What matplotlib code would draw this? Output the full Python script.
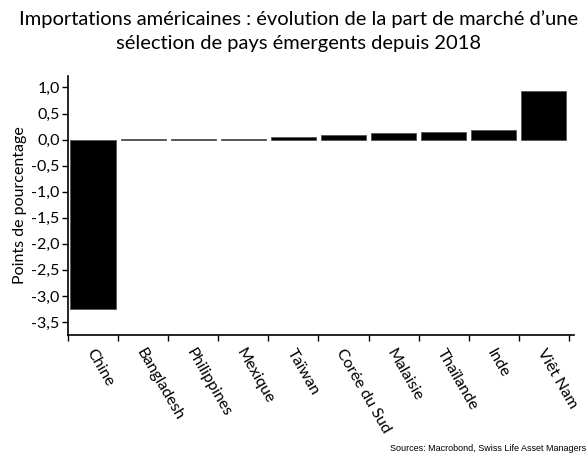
import matplotlib
matplotlib.use("Agg")
import matplotlib.pyplot as plt
import numpy as np

categories = ["Chine", "Bangladesh", "Philippines", "Mexique", "Taïwan",
              "Corée du Sud", "Malaisie", "Thaïlande", "Inde", "Viêt Nam"]
values = [-3.26, 0.005, 0.015, 0.015, 0.05, 0.09, 0.13, 0.15, 0.18, 0.93]
yticks = [1.0, 0.5, 0.0, -0.5, -1.0, -1.5, -2.0, -2.5, -3.0, -3.5]
ytick_labels = ["1,0", "0,5", "0,0", "-0,5", "-1,0", "-1,5", "-2,0", "-2,5", "-3,0", "-3,5"]

plt.rcParams['font.family'] = ['Lato', 'DejaVu Sans']

fig = plt.figure(figsize=(5.88, 4.55), dpi=100)
ax = fig.add_axes([0.1156, 0.2637, 0.8604, 0.5693])

x = np.arange(len(categories))
ax.bar(x, values, width=0.9, color="black", edgecolor="#555555", linewidth=0.6)

ax.set_xlim(-0.5, 9.6)
ax.set_ylim(-3.75, 1.22)
ax.set_yticks(yticks)
ax.set_yticklabels(ytick_labels, fontsize=11.5)
ax.tick_params(axis='y', direction='out', length=4, width=1, pad=2)

ax.set_xticks(x + 0.05)
ax.set_xticklabels(categories, rotation=-60, ha='left', va='top',
                   rotation_mode='anchor', fontsize=11.5)
ax.tick_params(axis='x', which='major', length=0, pad=8)
ax.set_xticks(np.arange(-0.5, 9.6, 1.0), minor=True)
ax.tick_params(axis='x', which='minor', direction='out', length=4, width=1)

for s in ['top', 'right']:
    ax.spines[s].set_visible(False)
for s in ['left', 'bottom']:
    ax.spines[s].set_linewidth(1.2)

ax.set_ylabel("Points de pourcentage", fontsize=11.5, labelpad=3)

fig.text(0.508, 0.978, "Importations américaines : évolution de la part de marché d’une\nsélection de pays émergents depuis 2018",
         ha='center', va='top', fontsize=14.5, linespacing=1.5)

fig.text(0.997, 0.005, "Sources: Macrobond, Swiss Life Asset Managers",
         ha='right', va='bottom', fontsize=6.5, family=['Liberation Sans', 'DejaVu Sans'])

fig.savefig("out.png", dpi=100)
